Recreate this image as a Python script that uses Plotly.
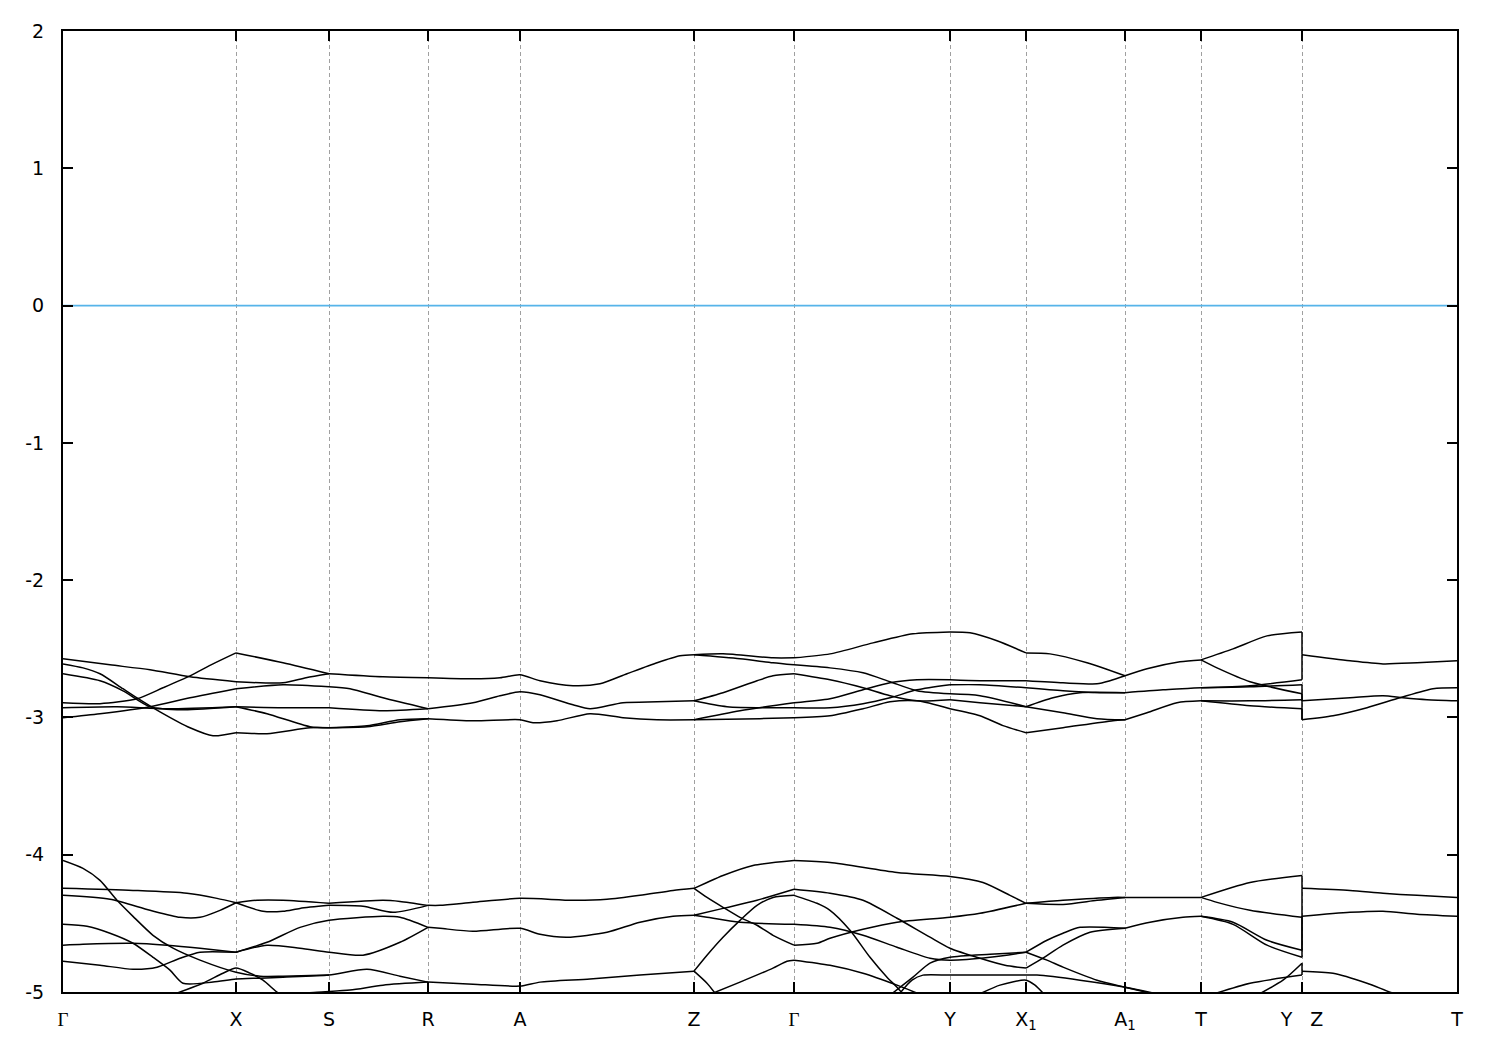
import plotly.graph_objects as go

# high-symmetry points along the path (k, arbitrary path units)
KPTS = [0.000, 0.173, 0.266, 0.365, 0.457, 0.631, 0.731, 0.887, 0.963, 1.062, 1.138, 1.239, 1.394]
KLABELS = ["<span style='font-family:Liberation Serif'>Γ</span>", "X", "S", "R", "A", "Z",
           "<span style='font-family:Liberation Serif'>Γ</span>", "Y", "X<sub>1</sub>", "A<sub>1</sub>",
           "T", "Y\u00a0\u00a0\u00a0Z", "T"]
YTICKS = [2, 1, 0, -1, -2, -3, -4, -5]
FERMI = 0.0

# ---------------- upper band group (~ -2.4 .. -3.1 eV) ----------------
# Gamma -> X
up_gx_a = [(0.000, -2.573), (0.047, -2.617), (0.087, -2.653), (0.127, -2.704), (0.173, -2.740)]
up_gx_b = [(0.000, -2.893), (0.037, -2.900), (0.074, -2.864), (0.100, -2.784), (0.127, -2.697), (0.150, -2.610), (0.173, -2.530)]
up_gx_c = [(0.000, -3.002), (0.037, -2.973), (0.087, -2.922), (0.127, -2.857), (0.173, -2.791)]
up_gx_d = [(0.000, -2.610), (0.020, -2.639), (0.037, -2.682), (0.060, -2.791), (0.074, -2.857), (0.097, -2.959), (0.127, -3.075), (0.150, -3.133), (0.173, -3.111)]
up_gx_e = [(0.000, -2.682), (0.037, -2.733), (0.060, -2.806), (0.087, -2.922), (0.120, -2.944), (0.173, -2.922)]
up_gx_f = [(0.000, -2.929), (0.054, -2.922), (0.104, -2.937), (0.173, -2.922)]
# X -> S
up_xs_a = [(0.173, -2.740), (0.220, -2.748), (0.243, -2.711), (0.266, -2.682)]
up_xs_b = [(0.173, -2.530), (0.220, -2.602), (0.266, -2.682)]
up_xs_c = [(0.173, -2.791), (0.220, -2.762), (0.266, -2.777)]
up_xs_e = [(0.173, -2.922), (0.220, -2.929), (0.266, -2.929)]
up_xs_f = [(0.173, -2.922), (0.204, -2.973), (0.247, -3.068), (0.266, -3.075)]
up_xs_d = [(0.173, -3.111), (0.204, -3.118), (0.247, -3.075), (0.266, -3.075)]
# S -> R
up_sr_a = [(0.266, -2.682), (0.320, -2.704), (0.365, -2.711)]
up_sr_c = [(0.266, -2.777), (0.287, -2.791), (0.320, -2.857), (0.365, -2.937)]
up_sr_e = [(0.266, -2.929), (0.320, -2.951), (0.365, -2.937)]
up_sr_f = [(0.266, -3.075), (0.304, -3.060), (0.337, -3.017), (0.365, -3.009)]
up_sr_d = [(0.266, -3.075), (0.304, -3.068), (0.337, -3.031), (0.365, -3.009)]
# R -> A -> Z (doubly degenerate)
up_rz_top = [(0.365, -2.711), (0.410, -2.719), (0.437, -2.711), (0.457, -2.690), (0.477, -2.733), (0.510, -2.769),
             (0.537, -2.755), (0.564, -2.682), (0.594, -2.602), (0.617, -2.551), (0.631, -2.544)]
up_rz_mid = [(0.365, -2.937), (0.410, -2.893), (0.437, -2.842), (0.457, -2.813), (0.477, -2.835), (0.510, -2.908),
             (0.527, -2.937), (0.560, -2.893), (0.594, -2.886), (0.631, -2.879)]
up_rz_bot = [(0.365, -3.009), (0.410, -3.024), (0.457, -3.017), (0.470, -3.038), (0.494, -3.024), (0.527, -2.973),
             (0.560, -3.002), (0.594, -3.017), (0.631, -3.017)]
# Z -> Gamma
up_zg_1 = [(0.631, -2.544), (0.660, -2.537), (0.710, -2.566), (0.731, -2.566)]
up_zg_2 = [(0.631, -2.544), (0.677, -2.573), (0.710, -2.602), (0.731, -2.617)]
up_zg_3 = [(0.631, -2.879), (0.660, -2.820), (0.694, -2.733), (0.710, -2.697), (0.731, -2.682)]
up_zg_4 = [(0.631, -2.879), (0.664, -2.922), (0.731, -2.929)]
up_zg_5 = [(0.631, -3.017), (0.677, -2.951), (0.731, -2.893)]
up_zg_6 = [(0.631, -3.017), (0.697, -3.009), (0.731, -3.002)]
# Gamma -> Y
up_gy_1 = [(0.731, -2.566), (0.767, -2.537), (0.810, -2.457), (0.850, -2.391), (0.887, -2.377)]
up_gy_2 = [(0.731, -2.617), (0.767, -2.639), (0.800, -2.675), (0.827, -2.740), (0.854, -2.806), (0.887, -2.828)]
up_gy_3 = [(0.731, -2.682), (0.767, -2.726), (0.800, -2.784), (0.827, -2.842), (0.854, -2.879), (0.887, -2.871)]
up_gy_4 = [(0.731, -2.893), (0.767, -2.864), (0.800, -2.799), (0.827, -2.748), (0.854, -2.726), (0.887, -2.726)]
up_gy_5 = [(0.731, -2.929), (0.767, -2.929), (0.800, -2.900), (0.827, -2.857), (0.854, -2.799), (0.887, -2.762)]
up_gy_6 = [(0.731, -3.002), (0.767, -2.988), (0.800, -2.937), (0.827, -2.886), (0.854, -2.879), (0.887, -2.937)]
# Y -> X1
up_yx_1 = [(0.887, -2.377), (0.907, -2.384), (0.934, -2.442), (0.963, -2.530)]
up_yx_2 = [(0.887, -2.726), (0.917, -2.733), (0.963, -2.733)]
up_yx_3 = [(0.887, -2.762), (0.917, -2.762), (0.963, -2.784)]
up_yx_4 = [(0.887, -2.828), (0.917, -2.842), (0.963, -2.922)]
up_yx_5 = [(0.887, -2.871), (0.917, -2.893), (0.963, -2.922)]
up_yx_6 = [(0.887, -2.937), (0.917, -2.988), (0.940, -3.060), (0.963, -3.111)]
# X1 -> A1
up_xa_1 = [(0.963, -2.530), (0.987, -2.537), (1.024, -2.602), (1.062, -2.697)]
up_xa_2 = [(0.963, -2.733), (1.000, -2.748), (1.034, -2.755), (1.047, -2.733), (1.062, -2.697)]
up_xa_3 = [(0.963, -2.784), (1.000, -2.806), (1.037, -2.820), (1.062, -2.820)]
up_xa_4 = [(0.963, -2.922), (0.990, -2.857), (1.017, -2.820), (1.062, -2.820)]
up_xa_5 = [(0.963, -2.922), (1.000, -2.966), (1.034, -3.009), (1.062, -3.017)]
up_xa_6 = [(0.963, -3.111), (1.000, -3.075), (1.050, -3.024), (1.062, -3.017)]
# A1 -> T
up_at_1 = [(1.062, -2.697), (1.084, -2.646), (1.117, -2.595), (1.138, -2.581)]
up_at_2 = [(1.062, -2.820), (1.100, -2.799), (1.138, -2.784)]
up_at_3 = [(1.062, -3.017), (1.084, -2.966), (1.114, -2.893), (1.138, -2.879)]
# T -> Y
up_ty_1 = [(1.138, -2.581), (1.170, -2.501), (1.204, -2.406), (1.239, -2.377)]
up_ty_2 = [(1.138, -2.581), (1.154, -2.639), (1.187, -2.740), (1.239, -2.828)]
up_ty_3 = [(1.138, -2.784), (1.187, -2.769), (1.239, -2.726)]
up_ty_4 = [(1.138, -2.784), (1.187, -2.777), (1.239, -2.762)]
up_ty_5 = [(1.138, -2.879), (1.187, -2.879), (1.239, -2.871)]
up_ty_6 = [(1.138, -2.879), (1.187, -2.915), (1.239, -2.937)]
# Z -> T
up_zt_1 = [(1.239, -2.544), (1.287, -2.588), (1.320, -2.610), (1.354, -2.602), (1.394, -2.588)]
up_zt_2 = [(1.239, -2.879), (1.287, -2.857), (1.320, -2.842), (1.340, -2.857), (1.364, -2.871), (1.394, -2.879)]
up_zt_3 = [(1.239, -3.017), (1.270, -2.988), (1.304, -2.929), (1.337, -2.857), (1.370, -2.791), (1.394, -2.784)]

# ---------------- lower band group (~ -4.0 .. -5 eV) ----------------
lo_gs_1 = [(0.000, -4.042), (0.020, -4.100), (0.037, -4.187), (0.054, -4.332), (0.070, -4.449), (0.090, -4.587),
           (0.110, -4.681), (0.137, -4.768), (0.173, -4.856), (0.197, -4.885), (0.220, -4.885), (0.266, -4.877)]
lo_gx_2 = [(0.000, -4.245), (0.070, -4.260), (0.124, -4.281), (0.154, -4.318), (0.173, -4.350)]
lo_gx_3 = [(0.000, -4.296), (0.047, -4.325), (0.087, -4.405), (0.117, -4.456), (0.137, -4.456), (0.157, -4.405), (0.173, -4.350)]
lo_gr_4 = [(0.000, -4.507), (0.024, -4.521), (0.047, -4.572), (0.070, -4.645), (0.090, -4.747), (0.107, -4.841),
           (0.120, -4.936), (0.150, -4.928), (0.173, -4.906), (0.197, -4.899), (0.220, -4.892), (0.266, -4.877),
           (0.304, -4.834), (0.337, -4.885), (0.365, -4.928)]
lo_gx_5 = [(0.000, -4.659), (0.020, -4.652), (0.070, -4.645), (0.104, -4.659), (0.137, -4.681), (0.173, -4.710)]
lo_gx_6 = [(0.000, -4.776), (0.037, -4.805), (0.070, -4.834), (0.094, -4.819), (0.117, -4.754), (0.137, -4.710), (0.173, -4.710)]
lo_gx_7 = [(0.114, -5.008), (0.140, -4.936), (0.160, -4.863), (0.173, -4.826), (0.187, -4.863), (0.200, -4.914),
           (0.214, -5.001), (0.219, -5.023)]
lo_sr_9 = [(0.220, -5.023), (0.254, -5.001), (0.287, -4.986), (0.320, -4.950), (0.365, -4.928)]
lo_xs_up = [(0.173, -4.350), (0.194, -4.332), (0.220, -4.332), (0.266, -4.354)]
lo_xs_lo = [(0.173, -4.350), (0.200, -4.412), (0.220, -4.412), (0.237, -4.391), (0.266, -4.369)]
lo_sr_up = [(0.266, -4.354), (0.320, -4.332), (0.337, -4.340), (0.365, -4.369)]
lo_sr_lo = [(0.266, -4.369), (0.300, -4.376), (0.330, -4.420), (0.365, -4.369)]
lo_xr_5 = [(0.173, -4.710), (0.204, -4.638), (0.237, -4.529), (0.266, -4.478), (0.320, -4.449), (0.337, -4.456), (0.365, -4.529)]
lo_xr_6 = [(0.173, -4.710), (0.204, -4.659), (0.237, -4.681), (0.266, -4.710), (0.300, -4.732), (0.337, -4.638), (0.365, -4.529)]
# R -> A -> Z (doubly degenerate)
lo_rz_top = [(0.365, -4.369), (0.377, -4.369), (0.410, -4.347), (0.457, -4.318), (0.510, -4.332), (0.544, -4.325),
             (0.577, -4.296), (0.610, -4.260), (0.631, -4.245)]
lo_rz_mid = [(0.365, -4.529), (0.377, -4.536), (0.410, -4.558), (0.457, -4.536), (0.477, -4.580), (0.504, -4.601),
             (0.544, -4.565), (0.577, -4.492), (0.610, -4.449), (0.631, -4.441)]
lo_rz_bot = [(0.365, -4.928), (0.410, -4.943), (0.457, -4.957), (0.477, -4.928), (0.527, -4.906), (0.577, -4.877), (0.631, -4.848)]
# Z -> Gamma
lo_zg_1 = [(0.631, -4.245), (0.644, -4.202), (0.660, -4.151), (0.690, -4.078), (0.731, -4.042)]
lo_zg_2 = [(0.631, -4.245), (0.644, -4.311), (0.660, -4.383), (0.677, -4.456), (0.694, -4.514), (0.710, -4.587), (0.731, -4.659)]
lo_zg_3 = [(0.631, -4.441), (0.660, -4.391), (0.694, -4.332), (0.731, -4.252)]
lo_zg_4 = [(0.631, -4.441), (0.644, -4.456), (0.677, -4.492), (0.731, -4.507)]
lo_zg_5 = [(0.631, -4.848), (0.644, -4.732), (0.660, -4.601), (0.677, -4.478), (0.694, -4.369), (0.710, -4.311), (0.731, -4.296)]
lo_zg_6 = [(0.631, -4.848), (0.644, -4.936), (0.652, -5.008)]
lo_zg_7 = [(0.650, -5.008), (0.677, -4.928), (0.710, -4.826), (0.724, -4.776), (0.731, -4.768)]
# Gamma -> Y -> X1
lo_gy_1 = [(0.731, -4.042), (0.767, -4.056), (0.834, -4.129), (0.887, -4.158), (0.920, -4.202), (0.947, -4.296), (0.963, -4.354)]
lo_gy_2 = [(0.731, -4.252), (0.767, -4.281), (0.800, -4.332), (0.834, -4.463), (0.867, -4.601), (0.887, -4.681),
           (0.917, -4.754), (0.942, -4.805), (0.963, -4.826)]
lo_gy_3 = [(0.731, -4.659), (0.754, -4.645), (0.767, -4.609), (0.800, -4.543), (0.834, -4.492), (0.887, -4.456),
           (0.917, -4.427), (0.963, -4.354)]
lo_gy_4 = [(0.731, -4.507), (0.767, -4.529), (0.800, -4.587), (0.834, -4.674), (0.867, -4.754), (0.887, -4.768),
           (0.927, -4.747), (0.963, -4.710)]
lo_gy_5 = [(0.731, -4.768), (0.767, -4.805), (0.800, -4.863), (0.834, -4.950), (0.854, -5.008)]
lo_gy_st = [(0.731, -4.296), (0.754, -4.354), (0.767, -4.405), (0.787, -4.550), (0.807, -4.747), (0.824, -4.892),
            (0.834, -4.965), (0.841, -5.023)]
lo_gy_ri = [(0.827, -5.023), (0.850, -4.892), (0.867, -4.790), (0.887, -4.747), (0.927, -4.725), (0.963, -4.710)]
lo_ya_fl = [(0.837, -5.008), (0.849, -4.914), (0.860, -4.877), (0.887, -4.877), (0.937, -4.877), (0.974, -4.877),
            (1.017, -4.914), (1.062, -4.965), (1.100, -5.023)]
lo_x1_pk = [(0.914, -5.023), (0.937, -4.950), (0.963, -4.914), (0.972, -4.950), (0.982, -5.023)]
# X1 -> A1
lo_xa_1 = [(0.963, -4.354), (1.000, -4.332), (1.050, -4.311), (1.062, -4.311)]
lo_xa_2 = [(0.963, -4.354), (1.000, -4.362), (1.034, -4.332), (1.062, -4.311)]
lo_xa_3 = [(0.963, -4.710), (0.984, -4.623), (1.000, -4.572), (1.017, -4.529), (1.062, -4.536)]
lo_xa_4 = [(0.963, -4.826), (0.980, -4.754), (1.000, -4.659), (1.027, -4.565), (1.062, -4.536)]
lo_xa_5 = [(0.963, -4.710), (0.984, -4.768), (1.000, -4.819), (1.034, -4.914), (1.062, -4.965), (1.087, -5.008)]
# A1 -> T
lo_at_1 = [(1.062, -4.311), (1.097, -4.311), (1.138, -4.311)]
lo_at_2 = [(1.062, -4.536), (1.087, -4.492), (1.120, -4.456), (1.138, -4.449)]
# T -> Y
lo_ty_1 = [(1.138, -4.311), (1.187, -4.202), (1.239, -4.151)]
lo_ty_2 = [(1.138, -4.311), (1.154, -4.347), (1.187, -4.405), (1.239, -4.456)]
lo_ty_3 = [(1.138, -4.449), (1.170, -4.492), (1.204, -4.623), (1.239, -4.696)]
lo_ty_4 = [(1.138, -4.449), (1.170, -4.507), (1.204, -4.659), (1.239, -4.747)]
lo_ty_5 = [(1.147, -5.023), (1.187, -4.936), (1.239, -4.877)]
lo_ty_6 = [(1.194, -5.023), (1.220, -4.914), (1.239, -4.790)]
# Z -> T
lo_zt_1 = [(1.239, -4.245), (1.287, -4.260), (1.320, -4.281), (1.354, -4.296), (1.394, -4.311)]
lo_zt_2 = [(1.239, -4.449), (1.287, -4.420), (1.320, -4.412), (1.354, -4.434), (1.394, -4.449)]
lo_zt_3 = [(1.239, -4.848), (1.270, -4.863), (1.304, -4.936), (1.327, -5.001), (1.337, -5.023)]

# band energies at Y (end of T-Y) and Z (start of Z-T), joined at the Y|Z break
YZ_AT_Y = [-2.377, -2.726, -2.762, -2.828, -2.871, -2.937, -4.151, -4.456, -4.696, -4.747, -4.790, -4.877]
YZ_AT_Z = [-2.544, -2.544, -2.879, -2.879, -3.017, -3.017, -4.245, -4.245, -4.449, -4.449, -4.848, -4.848]

curves = [
    up_gx_a, up_gx_b, up_gx_c, up_gx_d, up_gx_e, up_gx_f,
    up_xs_a, up_xs_b, up_xs_c, up_xs_e, up_xs_f, up_xs_d,
    up_sr_a, up_sr_c, up_sr_e, up_sr_f, up_sr_d,
    up_rz_top, up_rz_mid, up_rz_bot,
    up_zg_1, up_zg_2, up_zg_3, up_zg_4, up_zg_5, up_zg_6,
    up_gy_1, up_gy_2, up_gy_3, up_gy_4, up_gy_5, up_gy_6,
    up_yx_1, up_yx_2, up_yx_3, up_yx_4, up_yx_5, up_yx_6,
    up_xa_1, up_xa_2, up_xa_3, up_xa_4, up_xa_5, up_xa_6,
    up_at_1, up_at_2, up_at_3,
    up_ty_1, up_ty_2, up_ty_3, up_ty_4, up_ty_5, up_ty_6,
    up_zt_1, up_zt_2, up_zt_3,
    lo_gs_1, lo_gx_2, lo_gx_3, lo_gr_4, lo_gx_5, lo_gx_6, lo_gx_7, lo_sr_9,
    lo_xs_up, lo_xs_lo, lo_sr_up, lo_sr_lo, lo_xr_5, lo_xr_6,
    lo_rz_top, lo_rz_mid, lo_rz_bot,
    lo_zg_1, lo_zg_2, lo_zg_3, lo_zg_4, lo_zg_5, lo_zg_6, lo_zg_7,
    lo_gy_1, lo_gy_2, lo_gy_3, lo_gy_4, lo_gy_5, lo_gy_st, lo_gy_ri, lo_ya_fl, lo_x1_pk,
    lo_xa_1, lo_xa_2, lo_xa_3, lo_xa_4, lo_xa_5,
    lo_at_1, lo_at_2,
    lo_ty_1, lo_ty_2, lo_ty_3, lo_ty_4, lo_ty_5, lo_ty_6,
    lo_zt_1, lo_zt_2, lo_zt_3,
]

fig = go.Figure()

LINE = dict(color="black", width=1.5, shape="spline", smoothing=0.7)

for c in curves:
    fig.add_trace(go.Scatter(x=[p[0] for p in c], y=[p[1] for p in c], mode="lines",
                             line=LINE, hoverinfo="skip", showlegend=False))

for ey, ez in zip(YZ_AT_Y, YZ_AT_Z):
    fig.add_trace(go.Scatter(x=[KPTS[11], KPTS[11]], y=[ey, ez], mode="lines",
                             line=dict(color="black", width=1.5), hoverinfo="skip", showlegend=False))

# Fermi level
fig.add_trace(go.Scatter(x=[KPTS[0], KPTS[-1]], y=[FERMI, FERMI], mode="lines",
                         line=dict(color="rgb(86,180,233)", width=1.7),
                         hoverinfo="skip", showlegend=False))

FONT = dict(family="DejaVu Sans, Liberation Sans, sans-serif", size=19, color="black")

fig.update_layout(
    width=1500, height=1050,
    margin=dict(l=55, r=51, t=21, b=66),
    paper_bgcolor="white", plot_bgcolor="white",
    font=FONT,
    showlegend=False,
)
fig.update_xaxes(
    range=[KPTS[0], KPTS[-1]],
    tickmode="array", tickvals=KPTS, ticktext=KLABELS,
    ticks="inside", ticklen=10, tickwidth=1.5, tickcolor="black",
    showline=True, linecolor="black", linewidth=2, mirror="ticks",
    showgrid=True, gridcolor="#a0a0a0", gridwidth=1, griddash="4px,3px",
    zeroline=False, ticklabelstandoff=9,
    tickfont=FONT,
)
fig.update_yaxes(
    range=[-5, 2],
    tickmode="array", tickvals=YTICKS, ticktext=[str(v) for v in YTICKS],
    ticks="inside", ticklen=10, tickwidth=1.5, tickcolor="black",
    showline=True, linecolor="black", linewidth=2, mirror="ticks",
    showgrid=False, zeroline=False, ticklabelstandoff=13,
    tickfont=FONT,
)

fig.write_html("out.html")
